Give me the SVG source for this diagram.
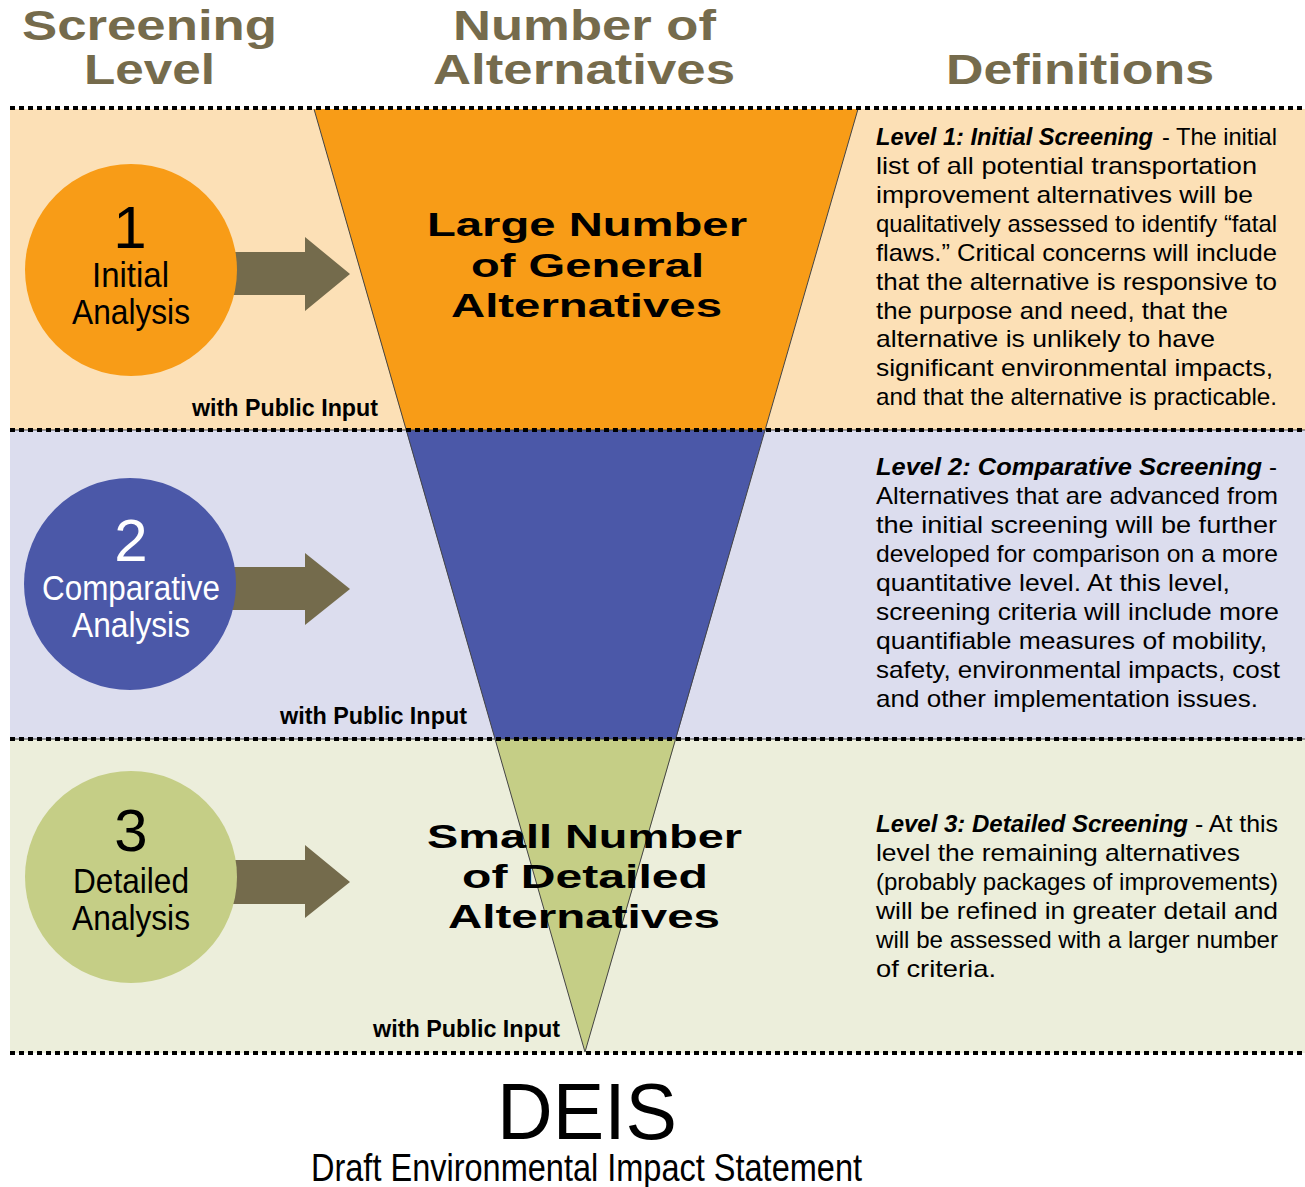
<svg xmlns="http://www.w3.org/2000/svg" width="1305" height="1187" viewBox="0 0 1305 1187">
  <style>
    .hdr { font-family: "Liberation Sans", Arial, sans-serif; font-weight: bold; font-size: 42px; fill: #756B4C; }
    .tri { font-family: "Liberation Sans", Arial, sans-serif; font-weight: bold; font-size: 34px; fill: #000; }
    .cir { font-family: "Liberation Sans", Arial, sans-serif; font-size: 35px; fill: #000; }
    .dig { font-family: "Liberation Sans", Arial, sans-serif; font-size: 60px; fill: #000; }
    .pub { font-family: "Liberation Sans", Arial, sans-serif; font-weight: bold; font-size: 24px; fill: #000; }
    .def { font-family: "Liberation Sans", Arial, sans-serif; font-size: 24px; fill: #000; }
    .defb { font-family: "Liberation Sans", Arial, sans-serif; font-size: 24px; font-weight: bold; font-style: italic; fill: #000; }
    .dots { stroke: #000; stroke-width: 4; stroke-dasharray: 5 4; fill: none; }
    .thin { stroke: #444; stroke-width: 1; fill: none; }
    .arrow { fill: #746B4C; }
    .white { fill: #fff; }
  </style>

  <rect x="0" y="0" width="1305" height="1187" fill="#ffffff"/>

  <!-- bands -->
  <g id="bands">
    <rect x="10" y="109" width="1295" height="321" fill="#FCE0B6"/>
    <rect x="10" y="430" width="1295" height="309" fill="#DCDDEE"/>
    <rect x="10" y="739" width="1295" height="314" fill="#ECEEDB"/>
  </g>

  <!-- headers -->
  <g id="headers">
    <text class="hdr" x="22" y="40" textLength="255" lengthAdjust="spacingAndGlyphs">Screening</text>
    <text class="hdr" x="84" y="84" textLength="131" lengthAdjust="spacingAndGlyphs">Level</text>
    <text class="hdr" x="453" y="40" textLength="263" lengthAdjust="spacingAndGlyphs">Number of</text>
    <text class="hdr" x="433" y="84" textLength="302" lengthAdjust="spacingAndGlyphs">Alternatives</text>
    <text class="hdr" x="946" y="84" textLength="268" lengthAdjust="spacingAndGlyphs">Definitions</text>
  </g>

  <!-- funnel -->
  <g id="funnel">
    <polygon points="314,109 858,109 765,430 406,430" fill="#F89C17"/>
    <polygon points="406,430 765,430 676,739 495,739" fill="#4B58A8"/>
    <polygon points="495,739 676,739 585,1052" fill="#C5CE86"/>
    <polyline class="thin" points="314,109 585,1052 858,109"/>
  </g>

  <!-- separators -->
  <g id="separators">
    <line class="thin" x1="10" y1="430" x2="1305" y2="430"/>
    <line class="thin" x1="10" y1="739" x2="1305" y2="739"/>
    <line class="dots" x1="10" y1="108" x2="1305" y2="108"/>
    <line class="dots" x1="10" y1="430" x2="1305" y2="430"/>
    <line class="dots" x1="10" y1="739" x2="1305" y2="739"/>
    <line class="dots" x1="10" y1="1053" x2="1305" y2="1053"/>
  </g>

  <!-- connectors (arrows) -->
  <g id="connectors">
    <polygon class="arrow" points="228,252 305,252 305,237 350,274 305,311 305,295 228,295"/>
    <polygon class="arrow" points="228,567 305,567 305,553 350,589 305,625 305,610 228,610"/>
    <polygon class="arrow" points="228,860 305,860 305,845 350,882 305,918 305,904 228,904"/>
  </g>

  <!-- level 1 node -->
  <g id="node-level1">
    <circle cx="131" cy="270" r="106" fill="#F89C17"/>
    <text class="dig" x="130" y="248" text-anchor="middle">1</text>
    <text class="cir" x="92" y="287" textLength="77" lengthAdjust="spacingAndGlyphs">Initial</text>
    <text class="cir" x="72" y="324" textLength="118" lengthAdjust="spacingAndGlyphs">Analysis</text>
  </g>

  <!-- level 2 node -->
  <g id="node-level2">
    <circle cx="130" cy="584" r="106" fill="#4B58A8"/>
    <text class="dig white" x="131" y="561" text-anchor="middle">2</text>
    <text class="cir white" x="42" y="600" textLength="178" lengthAdjust="spacingAndGlyphs">Comparative</text>
    <text class="cir white" x="72" y="637" textLength="118" lengthAdjust="spacingAndGlyphs">Analysis</text>
  </g>

  <!-- level 3 node -->
  <g id="node-level3">
    <circle cx="131" cy="877" r="106" fill="#C5CE86"/>
    <text class="dig" x="131" y="851" text-anchor="middle">3</text>
    <text class="cir" x="73" y="893" textLength="116" lengthAdjust="spacingAndGlyphs">Detailed</text>
    <text class="cir" x="72" y="930" textLength="118" lengthAdjust="spacingAndGlyphs">Analysis</text>
  </g>

  <!-- public input labels -->
  <g id="public-input">
    <text class="pub" x="192" y="416" textLength="186" lengthAdjust="spacingAndGlyphs">with Public Input</text>
    <text class="pub" x="280" y="724" textLength="187" lengthAdjust="spacingAndGlyphs">with Public Input</text>
    <text class="pub" x="373" y="1037" textLength="187" lengthAdjust="spacingAndGlyphs">with Public Input</text>
  </g>

  <!-- funnel labels -->
  <g id="funnel-top-label">
    <text class="tri" x="427" y="236" textLength="320" lengthAdjust="spacingAndGlyphs">Large Number</text>
    <text class="tri" x="471" y="277" textLength="233" lengthAdjust="spacingAndGlyphs">of General</text>
    <text class="tri" x="451" y="317" textLength="271" lengthAdjust="spacingAndGlyphs">Alternatives</text>
  </g>
  <g id="funnel-bottom-label">
    <text class="tri" x="427" y="848" textLength="315" lengthAdjust="spacingAndGlyphs">Small Number</text>
    <text class="tri" x="462" y="888" textLength="246" lengthAdjust="spacingAndGlyphs">of Detailed</text>
    <text class="tri" x="448" y="928" textLength="272" lengthAdjust="spacingAndGlyphs">Alternatives</text>
  </g>

  <!-- definitions -->
  <g id="def-level1">
    <text class="defb" x="876" y="145" textLength="277" lengthAdjust="spacingAndGlyphs">Level 1: Initial Screening</text>
    <text class="def" x="1162" y="145" textLength="115" lengthAdjust="spacingAndGlyphs">- The initial</text>
    <text class="def" x="876" y="174" textLength="381" lengthAdjust="spacingAndGlyphs">list of all potential transportation</text>
    <text class="def" x="876" y="203" textLength="377" lengthAdjust="spacingAndGlyphs">improvement alternatives will be</text>
    <text class="def" x="876" y="232" textLength="401" lengthAdjust="spacingAndGlyphs">qualitatively assessed to identify “fatal</text>
    <text class="def" x="876" y="261" textLength="401" lengthAdjust="spacingAndGlyphs">flaws.” Critical concerns will include</text>
    <text class="def" x="876" y="290" textLength="401" lengthAdjust="spacingAndGlyphs">that the alternative is responsive to</text>
    <text class="def" x="876" y="319" textLength="352" lengthAdjust="spacingAndGlyphs">the purpose and need, that the</text>
    <text class="def" x="876" y="347" textLength="339" lengthAdjust="spacingAndGlyphs">alternative is unlikely to have</text>
    <text class="def" x="876" y="376" textLength="397" lengthAdjust="spacingAndGlyphs">significant environmental impacts,</text>
    <text class="def" x="876" y="405" textLength="401" lengthAdjust="spacingAndGlyphs">and that the alternative is practicable.</text>
  </g>

  <g id="def-level2">
    <text class="defb" x="876" y="475" textLength="386" lengthAdjust="spacingAndGlyphs">Level 2: Comparative Screening</text>
    <text class="def" x="1269" y="475">-</text>
    <text class="def" x="876" y="504" textLength="402" lengthAdjust="spacingAndGlyphs">Alternatives that are advanced from</text>
    <text class="def" x="876" y="533" textLength="401" lengthAdjust="spacingAndGlyphs">the initial screening will be further</text>
    <text class="def" x="876" y="562" textLength="402" lengthAdjust="spacingAndGlyphs">developed for comparison on a more</text>
    <text class="def" x="876" y="591" textLength="354" lengthAdjust="spacingAndGlyphs">quantitative level. At this level,</text>
    <text class="def" x="876" y="620" textLength="403" lengthAdjust="spacingAndGlyphs">screening criteria will include more</text>
    <text class="def" x="876" y="649" textLength="391" lengthAdjust="spacingAndGlyphs">quantifiable measures of mobility,</text>
    <text class="def" x="876" y="678" textLength="404" lengthAdjust="spacingAndGlyphs">safety, environmental impacts, cost</text>
    <text class="def" x="876" y="707" textLength="382" lengthAdjust="spacingAndGlyphs">and other implementation issues.</text>
  </g>

  <g id="def-level3">
    <text class="defb" x="876" y="832" textLength="312" lengthAdjust="spacingAndGlyphs">Level 3: Detailed Screening</text>
    <text class="def" x="1195" y="832" textLength="83" lengthAdjust="spacingAndGlyphs">- At this</text>
    <text class="def" x="876" y="861" textLength="364" lengthAdjust="spacingAndGlyphs">level the remaining alternatives</text>
    <text class="def" x="876" y="890" textLength="402" lengthAdjust="spacingAndGlyphs">(probably packages of improvements)</text>
    <text class="def" x="876" y="919" textLength="402" lengthAdjust="spacingAndGlyphs">will be refined in greater detail and</text>
    <text class="def" x="876" y="948" textLength="402" lengthAdjust="spacingAndGlyphs">will be assessed with a larger number</text>
    <text class="def" x="876" y="977" textLength="120" lengthAdjust="spacingAndGlyphs">of criteria.</text>
  </g>

  <!-- footer -->
  <g id="footer">
    <text x="497" y="1139" textLength="180" lengthAdjust="spacingAndGlyphs" style="font-family: 'Liberation Sans', Arial, sans-serif; font-size: 79px; fill: #000;">DEIS</text>
    <text x="311" y="1181" textLength="551" lengthAdjust="spacingAndGlyphs" style="font-family: 'Liberation Sans', Arial, sans-serif; font-size: 38px; fill: #000;">Draft Environmental Impact Statement</text>
  </g>
</svg>
